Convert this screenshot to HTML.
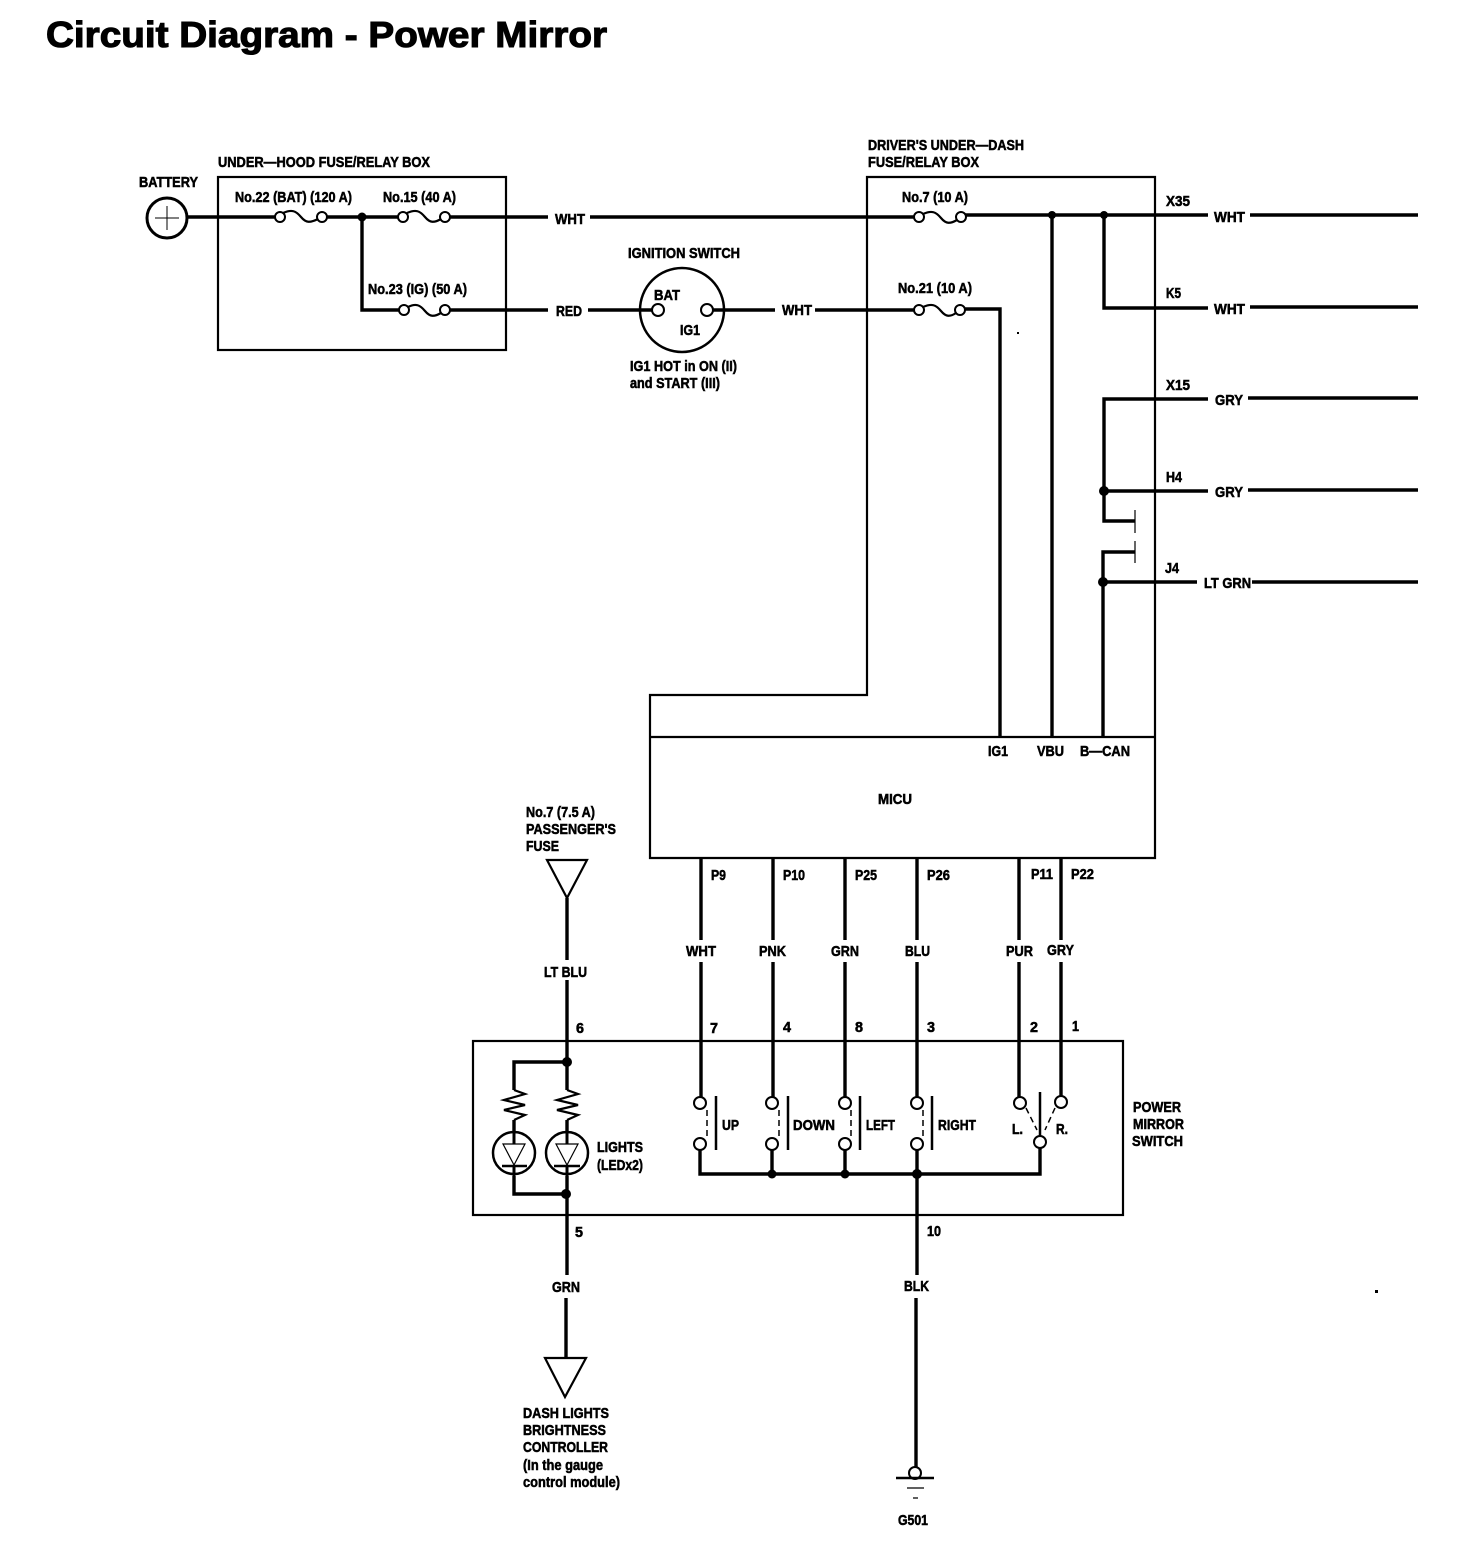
<!DOCTYPE html>
<html><head><meta charset="utf-8"><style>
html,body{margin:0;padding:0;background:#fff}
svg{display:block}
text{font-family:"Liberation Sans",sans-serif;font-weight:bold;font-size:15px;fill:#000;stroke:#000;stroke-width:.55}
.w{fill:none;stroke:#000;stroke-width:3.4}
.t{fill:none;stroke:#000;stroke-width:2.2}
.o{fill:#fff;stroke:#000;stroke-width:2}
.j{fill:#000}
</style></head><body>
<svg width="1472" height="1548" viewBox="0 0 1472 1548" xmlns="http://www.w3.org/2000/svg">
<text x="46" y="47" textLength="561" lengthAdjust="spacingAndGlyphs" style="font-size:36px;stroke-width:1.1">Circuit Diagram - Power Mirror</text>

<!-- boxes -->
<rect x="218" y="177" width="288" height="173" class="t"/>
<path d="M868 177H1155V858H650V695H867V177Z" class="t"/>
<path d="M650 737H1155" class="t"/>
<rect x="473" y="1041" width="650" height="174" class="t"/>

<!-- battery -->
<circle cx="167" cy="218" r="20" class="t" style="stroke-width:3"/>
<path d="M155 218H179M167 206V230" stroke="#000" stroke-width="1"/>

<!-- top wires -->
<path class="w" d="M187 217H276M326 217H399M449 217H548M590 217H915M965 215H1208M1250 215H1418"/>
<path class="w" d="M362 217V310H399M449 310H548M588 310H652M713 310H775M815 310H915M965 309H1000V737"/>
<path class="w" d="M1052 215V737M1104 215V308H1208M1250 307H1418"/>
<path class="w" d="M1208 399H1104V521H1135M1248 398H1418M1104 491H1208M1248 490H1418"/>
<path class="w" d="M1135 552H1103V737M1103 582H1197M1252 582H1418"/>
<path d="M1135 510V533M1135 541V563" stroke="#000" stroke-width="1.2"/>
<circle class="j" cx="362" cy="217" r="4.5"/><circle class="j" cx="1052" cy="215" r="4"/><circle class="j" cx="1104" cy="215" r="4"/>
<circle class="j" cx="1104" cy="491" r="5"/><circle class="j" cx="1103" cy="582" r="5"/>

<!-- fuses -->
<path class="t" d="M283 213C292 209 296 211 301 217S310 223 318 219"/>
<path class="t" d="M407 213C416 209 420 211 425 217S434 223 441 219"/>
<path class="t" d="M408 307C416 303 420 305 425 311S434 317 441 313"/>
<path class="t" d="M923 214C932 210 936 212 941 218S950 224 957 220"/>
<path class="t" d="M923 307C932 303 936 305 941 311S950 317 956 313"/>
<circle class="o" cx="280" cy="217" r="5"/><circle class="o" cx="322" cy="217" r="5"/>
<circle class="o" cx="403" cy="217" r="5"/><circle class="o" cx="445" cy="217" r="5"/>
<circle class="o" cx="404" cy="310" r="5"/><circle class="o" cx="445" cy="310" r="5"/>
<circle class="o" cx="919" cy="217" r="5"/><circle class="o" cx="961" cy="217" r="5"/>
<circle class="o" cx="919" cy="310" r="5"/><circle class="o" cx="960" cy="310" r="5"/>

<!-- ignition switch -->
<circle cx="682" cy="310" r="42" class="t" style="stroke-width:2.5"/>
<circle class="o" cx="658" cy="310" r="6"/><circle class="o" cx="707" cy="310" r="6"/>

<!-- MICU down wires -->
<path class="w" d="M701 858V940M701 962V1097M773 858V940M773 962V1097M845 858V940M845 962V1097M917 858V940M917 962V1097M1019 858V940M1019 962V1097M1061 858V940M1061 962V1096"/>
<path class="w" d="M700 1150V1174H1040V1148M772 1150V1174M845 1150V1174M917 1150V1275M916 1298V1468"/>
<circle class="j" cx="772" cy="1174" r="4.5"/><circle class="j" cx="845" cy="1174" r="4.5"/><circle class="j" cx="917" cy="1174" r="5"/>

<!-- switches -->
<path d="M716 1096V1150M788 1096V1150M860 1096V1150M932 1096V1150M1040 1092V1136" stroke="#000" stroke-width="2.5"/>
<path d="M707 1110V1138M779 1110V1138M851 1110V1138M923 1110V1138M1026 1108L1037 1130M1055 1108L1045 1130" stroke="#000" stroke-width="1.5" stroke-dasharray="6 4"/>
<circle class="o" cx="700" cy="1103" r="6"/><circle class="o" cx="700" cy="1144" r="6"/>
<circle class="o" cx="772" cy="1103" r="6"/><circle class="o" cx="772" cy="1144" r="6"/>
<circle class="o" cx="845" cy="1103" r="6"/><circle class="o" cx="845" cy="1144" r="6"/>
<circle class="o" cx="917" cy="1103" r="6"/><circle class="o" cx="917" cy="1144" r="6"/>
<circle class="o" cx="1020" cy="1103" r="6"/><circle class="o" cx="1061" cy="1102" r="6"/><circle class="o" cx="1040" cy="1142" r="6"/>

<!-- lights -->
<path class="t" d="M547 860H587L567 898Z"/>
<path class="w" d="M567 898V960M567 980V1090M567 1062H514V1090M514 1120V1131M567 1120V1131M567 1176V1275M514 1176V1194H566M566 1298V1358"/>
<path class="t" d="M514 1090L525 1094L504 1100L525 1105L504 1110L525 1115L514 1120"/>
<path class="t" d="M567 1090L578 1094L557 1100L578 1105L557 1110L578 1115L567 1120"/>
<circle cx="514" cy="1153" r="21" class="t" style="stroke-width:2.5"/>
<circle cx="567" cy="1153" r="21" class="t" style="stroke-width:2.5"/>
<path d="M503 1144H525L514 1165ZM556 1144H578L567 1165Z" fill="#fff" stroke="#000" stroke-width="1.2"/>
<path d="M502 1166H527M554 1166H580" stroke="#000" stroke-width="2.5"/>
<path d="M514 1131V1144M567 1131V1144M514 1166V1176M567 1166V1176" stroke="#000" stroke-width="3"/>
<circle class="j" cx="567" cy="1062" r="5"/><circle class="j" cx="566" cy="1194" r="5"/>
<path class="t" d="M545 1358H586L565 1397Z"/>

<!-- ground -->
<circle class="o" cx="915" cy="1473" r="6"/>
<path d="M896 1478H934" stroke="#000" stroke-width="2.5"/>
<path d="M907 1488H924M913 1498H918" stroke="#000" stroke-width="1.2"/>

<!-- specks -->
<rect x="1017" y="332" width="2" height="2"/><rect x="1375" y="1290" width="3" height="3"/>

<!-- labels -->
<text x="139" y="187" textLength="59" lengthAdjust="spacingAndGlyphs">BATTERY</text>
<text x="218" y="167" textLength="212" lengthAdjust="spacingAndGlyphs">UNDER—HOOD FUSE/RELAY BOX</text>
<text x="235" y="202" textLength="117" lengthAdjust="spacingAndGlyphs">No.22 (BAT) (120 A)</text>
<text x="383" y="202" textLength="73" lengthAdjust="spacingAndGlyphs">No.15 (40 A)</text>
<text x="368" y="294" textLength="99" lengthAdjust="spacingAndGlyphs">No.23 (IG) (50 A)</text>
<text x="555" y="224" textLength="30" lengthAdjust="spacingAndGlyphs">WHT</text>
<text x="556" y="316" textLength="26" lengthAdjust="spacingAndGlyphs">RED</text>
<text x="628" y="258" textLength="112" lengthAdjust="spacingAndGlyphs">IGNITION SWITCH</text>
<text x="654" y="300" textLength="26" lengthAdjust="spacingAndGlyphs">BAT</text>
<text x="680" y="335" textLength="20" lengthAdjust="spacingAndGlyphs">IG1</text>
<text x="630" y="371" textLength="107" lengthAdjust="spacingAndGlyphs">IG1 HOT in ON (II)</text>
<text x="630" y="388" textLength="90" lengthAdjust="spacingAndGlyphs">and START (III)</text>
<text x="782" y="315" textLength="30" lengthAdjust="spacingAndGlyphs">WHT</text>
<text x="902" y="202" textLength="66" lengthAdjust="spacingAndGlyphs">No.7 (10 A)</text>
<text x="898" y="293" textLength="74" lengthAdjust="spacingAndGlyphs">No.21 (10 A)</text>
<text x="868" y="150" textLength="156" lengthAdjust="spacingAndGlyphs">DRIVER'S UNDER—DASH</text>
<text x="868" y="167" textLength="111" lengthAdjust="spacingAndGlyphs">FUSE/RELAY BOX</text>
<text x="1166" y="206" textLength="24" lengthAdjust="spacingAndGlyphs">X35</text>
<text x="1214" y="222" textLength="31" lengthAdjust="spacingAndGlyphs">WHT</text>
<text x="1166" y="298" textLength="15" lengthAdjust="spacingAndGlyphs">K5</text>
<text x="1214" y="314" textLength="31" lengthAdjust="spacingAndGlyphs">WHT</text>
<text x="1166" y="390" textLength="24" lengthAdjust="spacingAndGlyphs">X15</text>
<text x="1215" y="405" textLength="28" lengthAdjust="spacingAndGlyphs">GRY</text>
<text x="1166" y="482" textLength="16" lengthAdjust="spacingAndGlyphs">H4</text>
<text x="1215" y="497" textLength="28" lengthAdjust="spacingAndGlyphs">GRY</text>
<text x="1165" y="573" textLength="14" lengthAdjust="spacingAndGlyphs">J4</text>
<text x="1204" y="588" textLength="47" lengthAdjust="spacingAndGlyphs">LT GRN</text>
<text x="988" y="756" textLength="20" lengthAdjust="spacingAndGlyphs">IG1</text>
<text x="1037" y="756" textLength="27" lengthAdjust="spacingAndGlyphs">VBU</text>
<text x="1080" y="756" textLength="50" lengthAdjust="spacingAndGlyphs">B—CAN</text>
<text x="878" y="804" textLength="34" lengthAdjust="spacingAndGlyphs">MICU</text>
<text x="526" y="817" textLength="69" lengthAdjust="spacingAndGlyphs">No.7 (7.5 A)</text>
<text x="526" y="834" textLength="90" lengthAdjust="spacingAndGlyphs">PASSENGER'S</text>
<text x="526" y="851" textLength="33" lengthAdjust="spacingAndGlyphs">FUSE</text>
<text x="711" y="880" textLength="15" lengthAdjust="spacingAndGlyphs">P9</text>
<text x="783" y="880" textLength="22" lengthAdjust="spacingAndGlyphs">P10</text>
<text x="855" y="880" textLength="22" lengthAdjust="spacingAndGlyphs">P25</text>
<text x="927" y="880" textLength="23" lengthAdjust="spacingAndGlyphs">P26</text>
<text x="1031" y="879" textLength="22" lengthAdjust="spacingAndGlyphs">P11</text>
<text x="1071" y="879" textLength="23" lengthAdjust="spacingAndGlyphs">P22</text>
<text x="686" y="956" textLength="30" lengthAdjust="spacingAndGlyphs">WHT</text>
<text x="759" y="956" textLength="27" lengthAdjust="spacingAndGlyphs">PNK</text>
<text x="831" y="956" textLength="28" lengthAdjust="spacingAndGlyphs">GRN</text>
<text x="905" y="956" textLength="25" lengthAdjust="spacingAndGlyphs">BLU</text>
<text x="1006" y="956" textLength="27" lengthAdjust="spacingAndGlyphs">PUR</text>
<text x="1047" y="955" textLength="27" lengthAdjust="spacingAndGlyphs">GRY</text>
<text x="544" y="977" textLength="43" lengthAdjust="spacingAndGlyphs">LT BLU</text>
<text x="576" y="1033" textLength="8" lengthAdjust="spacingAndGlyphs">6</text>
<text x="710" y="1033" textLength="8" lengthAdjust="spacingAndGlyphs">7</text>
<text x="783" y="1032" textLength="8" lengthAdjust="spacingAndGlyphs">4</text>
<text x="855" y="1032" textLength="8" lengthAdjust="spacingAndGlyphs">8</text>
<text x="927" y="1032" textLength="8" lengthAdjust="spacingAndGlyphs">3</text>
<text x="1030" y="1032" textLength="8" lengthAdjust="spacingAndGlyphs">2</text>
<text x="1072" y="1031" textLength="7" lengthAdjust="spacingAndGlyphs">1</text>
<text x="597" y="1152" textLength="46" lengthAdjust="spacingAndGlyphs">LIGHTS</text>
<text x="597" y="1170" textLength="46" lengthAdjust="spacingAndGlyphs">(LEDx2)</text>
<text x="722" y="1130" textLength="17" lengthAdjust="spacingAndGlyphs">UP</text>
<text x="793" y="1130" textLength="42" lengthAdjust="spacingAndGlyphs">DOWN</text>
<text x="866" y="1130" textLength="29" lengthAdjust="spacingAndGlyphs">LEFT</text>
<text x="938" y="1130" textLength="38" lengthAdjust="spacingAndGlyphs">RIGHT</text>
<text x="1012" y="1134" textLength="11" lengthAdjust="spacingAndGlyphs">L.</text>
<text x="1056" y="1134" textLength="12" lengthAdjust="spacingAndGlyphs">R.</text>
<text x="1133" y="1112" textLength="48" lengthAdjust="spacingAndGlyphs">POWER</text>
<text x="1133" y="1129" textLength="51" lengthAdjust="spacingAndGlyphs">MIRROR</text>
<text x="1132" y="1146" textLength="51" lengthAdjust="spacingAndGlyphs">SWITCH</text>
<text x="575" y="1237" textLength="8" lengthAdjust="spacingAndGlyphs">5</text>
<text x="927" y="1236" textLength="14" lengthAdjust="spacingAndGlyphs">10</text>
<text x="552" y="1292" textLength="28" lengthAdjust="spacingAndGlyphs">GRN</text>
<text x="904" y="1291" textLength="25" lengthAdjust="spacingAndGlyphs">BLK</text>
<text x="523" y="1418" textLength="86" lengthAdjust="spacingAndGlyphs">DASH LIGHTS</text>
<text x="523" y="1435" textLength="83" lengthAdjust="spacingAndGlyphs">BRIGHTNESS</text>
<text x="523" y="1452" textLength="85" lengthAdjust="spacingAndGlyphs">CONTROLLER</text>
<text x="523" y="1470" textLength="80" lengthAdjust="spacingAndGlyphs">(In the gauge</text>
<text x="523" y="1487" textLength="97" lengthAdjust="spacingAndGlyphs">control module)</text>
<text x="898" y="1525" textLength="30" lengthAdjust="spacingAndGlyphs">G501</text>
</svg>
</body></html>
